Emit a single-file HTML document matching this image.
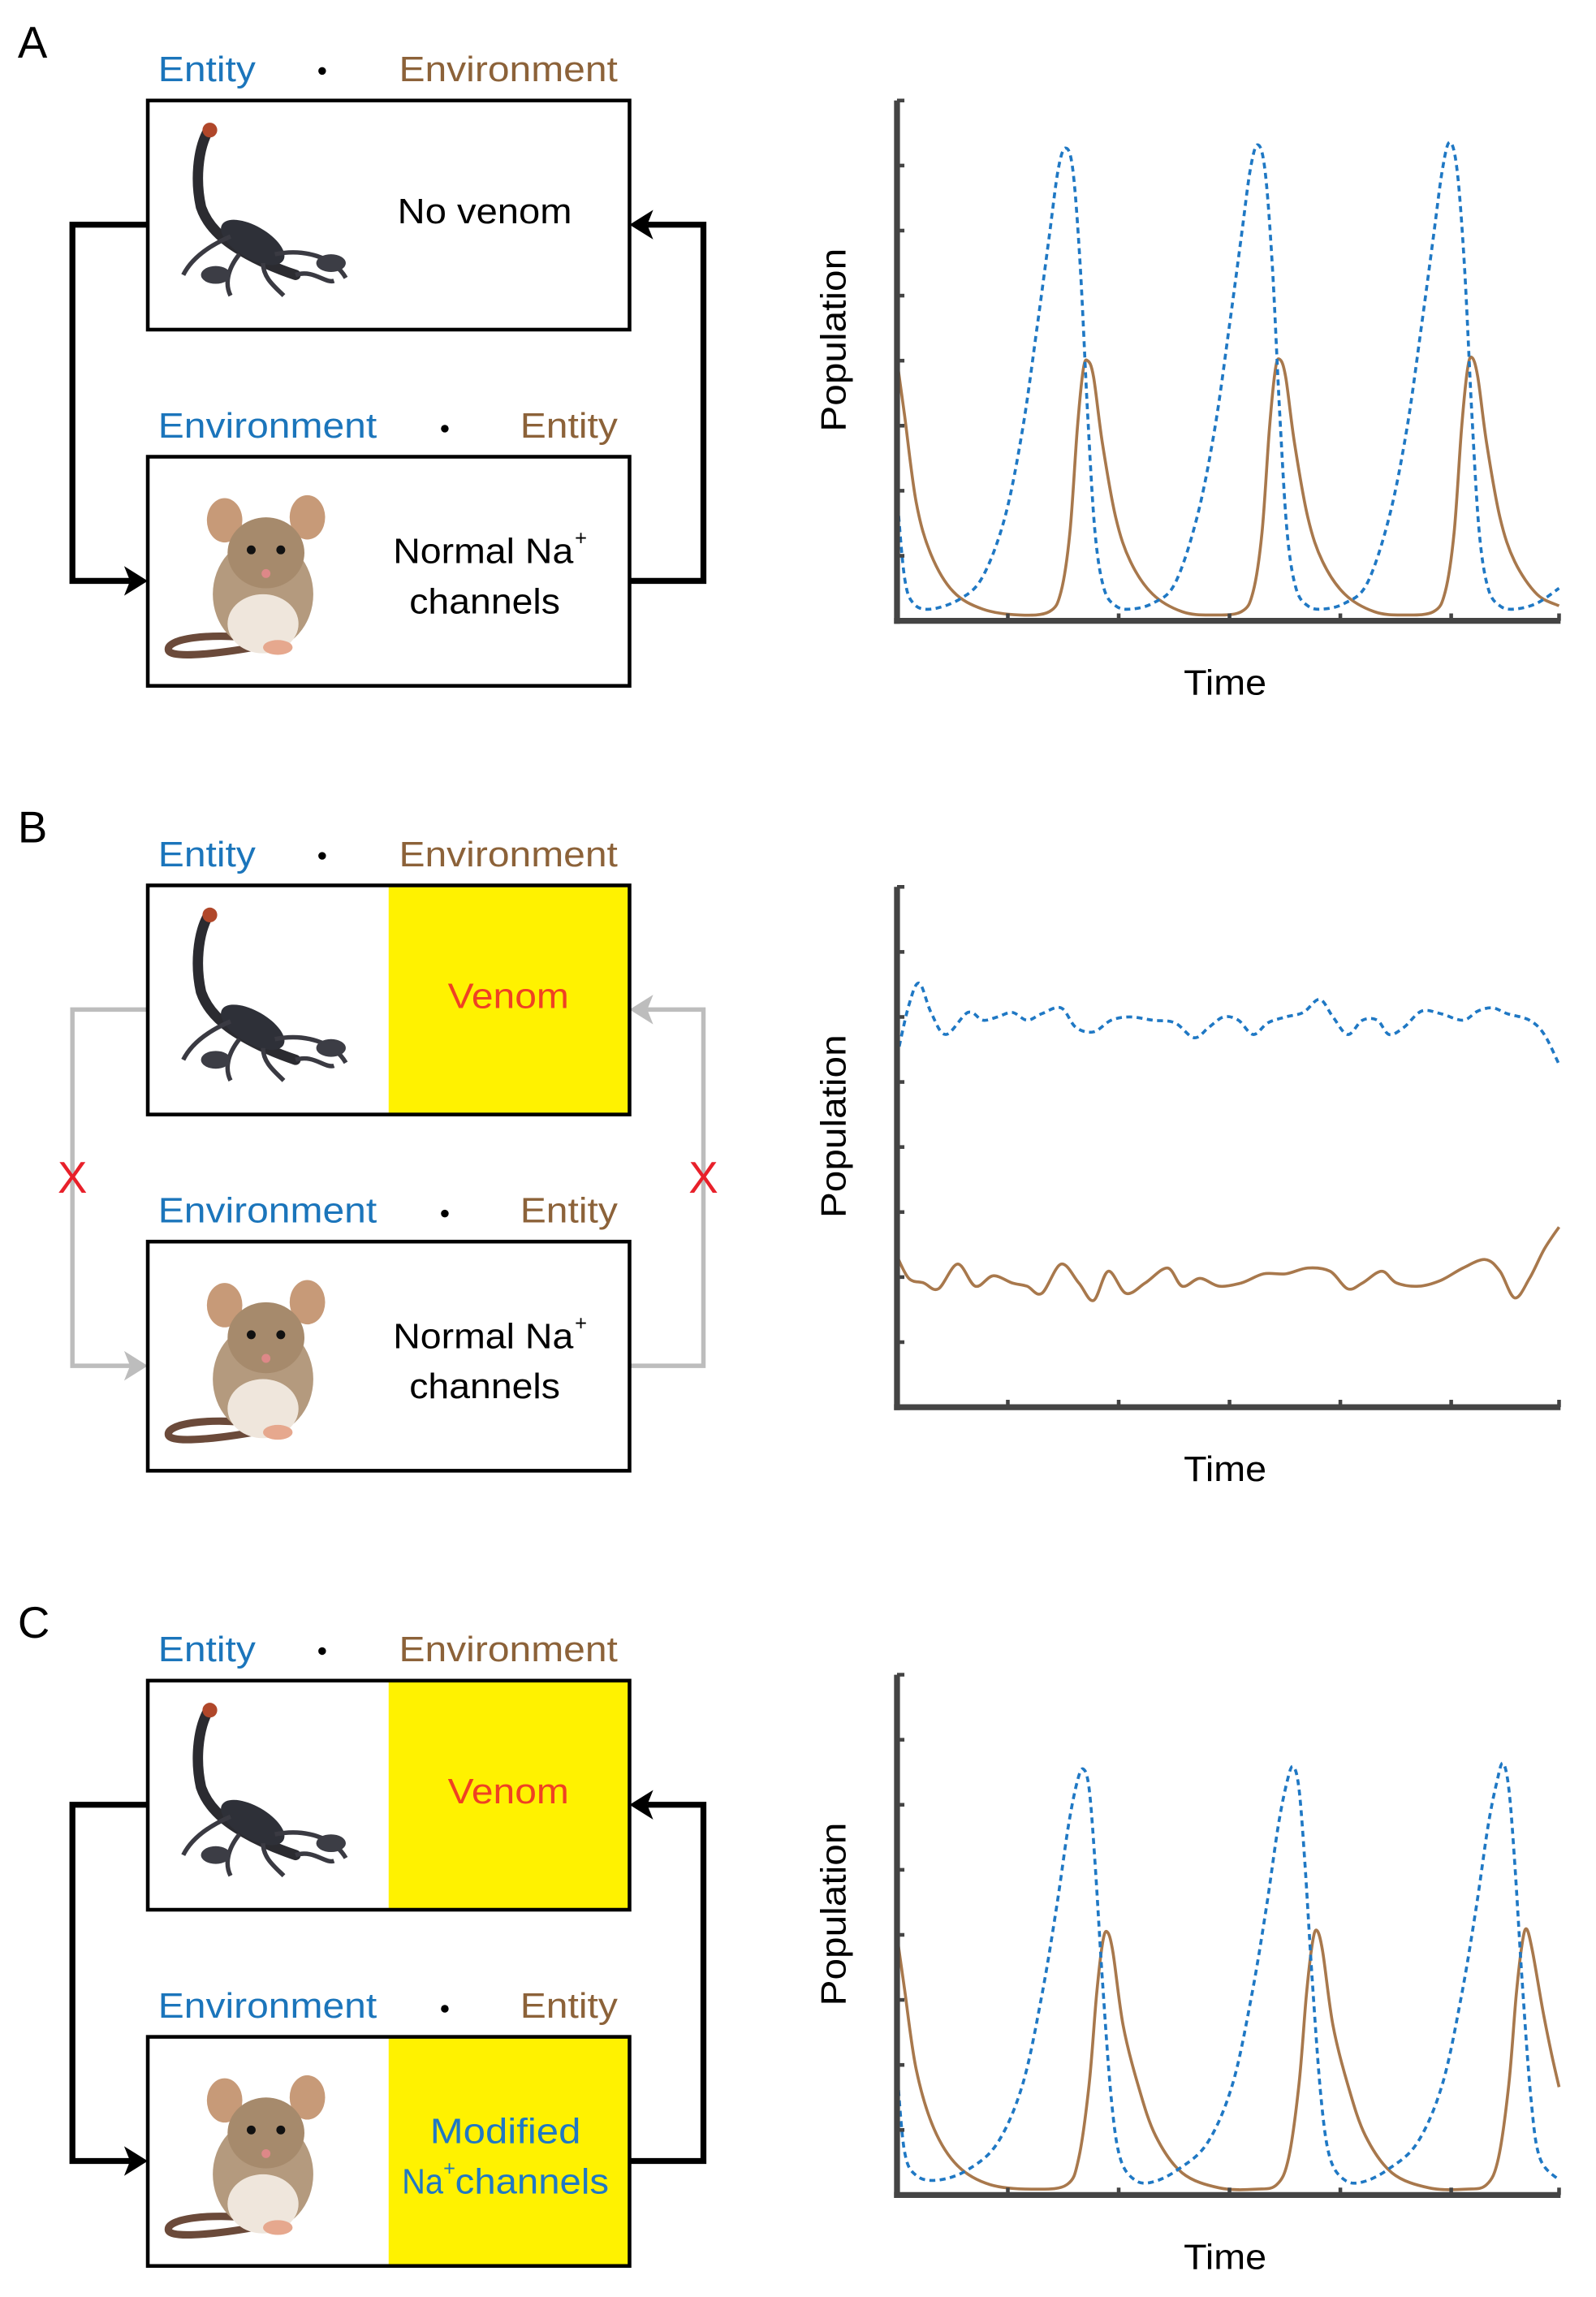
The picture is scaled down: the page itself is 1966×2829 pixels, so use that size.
<!DOCTYPE html>
<html><head><meta charset="utf-8">
<style>
html,body{margin:0;padding:0;background:#fff;}
svg{display:block;}
text{font-family:"Liberation Sans",sans-serif;}
</style></head>
<body>
<svg id="fig" width="1966" height="2829" viewBox="0 0 1080 1554" preserveAspectRatio="none" xmlns="http://www.w3.org/2000/svg">
<rect width="1080" height="1554" fill="#fff"/>
</svg>
<script>
// ---- chart data (time units 0..448, population units 0..8) ----
const aBlueT=[0,5,11,23,43,58,73,85,95,103,109,114,119,124,129,134,140,148,158,173,188,203,215,225,233,239,244,249,254,259,264,270,278,288,303,318,333,345,355,363,369,374,379,384,389,394,400,408,418,433,448];
const aBlueV=[1.93,0.68,0.27,0.18,0.34,0.68,1.59,2.95,4.55,5.91,6.93,7.27,6.93,5.45,3.18,1.36,0.5,0.23,0.18,0.27,0.57,1.59,2.95,4.55,5.91,6.93,7.32,6.93,5.45,3.18,1.36,0.5,0.23,0.18,0.27,0.57,1.59,2.95,4.55,5.91,6.93,7.36,6.93,5.45,3.18,1.36,0.5,0.23,0.18,0.27,0.5];
const aBrownT=[0,5,13,23,38,58,83,103,111,117,122,126,129,133,139,148,158,173,193,213,233,241,247,252,256,259,263,269,278,288,303,323,343,363,371,377,382,386,389,393,399,408,418,433,448];
const aBrownV=[4.0,3.18,1.82,1.02,0.45,0.18,0.09,0.14,0.45,1.36,2.95,3.86,4.0,3.75,2.73,1.59,0.91,0.41,0.14,0.09,0.14,0.45,1.36,2.95,3.86,4.02,3.75,2.73,1.59,0.91,0.41,0.14,0.09,0.14,0.45,1.36,2.95,3.86,4.05,3.75,2.73,1.59,0.91,0.41,0.23];
const bBlueT=[0,8,15,23,33,48,58,68,78,88,98,111,121,133,145,158,173,188,201,211,221,231,241,251,263,275,286,295,305,315,325,333,343,355,368,383,393,403,413,428,438,448];
const bBlueV=[5.39,6.18,6.52,6.07,5.73,6.07,5.95,6.0,6.07,5.95,6.05,6.14,5.84,5.77,5.95,6.0,5.95,5.91,5.68,5.84,6.0,5.95,5.73,5.91,6.0,6.07,6.27,6.0,5.73,5.95,5.95,5.73,5.84,6.09,6.05,5.95,6.09,6.14,6.05,5.95,5.73,5.27];
const bBrownT=[0,8,18,28,41,53,65,78,88,98,111,123,133,143,155,168,183,193,205,218,233,248,263,278,293,305,315,328,338,353,368,383,398,408,418,428,438,448];
const bBrownV=[2.32,1.98,1.91,1.82,2.2,1.86,2.02,1.91,1.86,1.75,2.2,1.91,1.64,2.09,1.75,1.91,2.14,1.86,1.98,1.86,1.91,2.05,2.05,2.14,2.09,1.82,1.91,2.09,1.91,1.86,1.95,2.14,2.27,2.09,1.68,1.98,2.43,2.77];
const cBlueT=[0,5,13,28,48,68,85,98,108,116,122,126,130,134,139,145,151,161,173,190,210,227,240,250,258,264,268,272,276,281,287,293,303,315,332,352,369,382,392,400,406,410,414,418,423,429,435,448];
const cBlueV=[1.93,0.68,0.3,0.23,0.39,0.8,1.7,3.07,4.43,5.68,6.36,6.55,6.25,5.11,3.3,1.48,0.57,0.23,0.2,0.39,0.8,1.7,3.07,4.43,5.68,6.36,6.59,6.25,5.11,3.3,1.48,0.57,0.23,0.2,0.39,0.8,1.7,3.07,4.43,5.68,6.36,6.64,6.25,5.11,3.3,1.48,0.57,0.23];
const cBrownT=[0,5,13,25,41,63,93,115,123,130,135,139,142,146,153,163,175,193,218,243,257,265,272,277,281,284,288,295,305,317,335,360,385,399,407,414,419,423,426,430,437,443,448];
const cBrownV=[3.98,3.18,1.93,1.02,0.45,0.16,0.09,0.16,0.57,1.7,3.07,3.86,4.05,3.75,2.61,1.7,0.91,0.34,0.11,0.09,0.16,0.57,1.7,3.07,3.86,4.07,3.75,2.61,1.7,0.91,0.34,0.11,0.09,0.16,0.57,1.7,3.07,3.86,4.09,3.75,2.84,2.16,1.66];
const yTicks=[0,1,2,3,4,5,6,7,8];
const xTicks=[0,75,150,225,300,375,448];

const NS='http://www.w3.org/2000/svg';
const svg=document.getElementById('fig');
function mk(tag,attrs,parent){const e=document.createElementNS(NS,tag);for(const k in attrs)e.setAttribute(k,attrs[k]);(parent||svg).appendChild(e);return e;}
function txt(s,x,y,size,fill,parent,anchor,len){const t=mk('text',{x:x,y:y,'font-size':size,fill:fill,'text-anchor':anchor||'start'},parent);if(len){t.setAttribute('textLength',len);t.setAttribute('lengthAdjust','spacingAndGlyphs');}t.textContent=s;return t;}

const BLUE='#1b75bb',BROWN='#8c6239',CBLUE='#1f78c4',CBROWN='#a8784c';

function scorpion(g,x,y){
  const s=mk('g',{transform:`translate(${x},${y})`},g);
  
  
  mk('path',{d:'M24,8 C18,20 16,40 20,58 C24,70 34,80 48,88 C60,95 72,100 84,104',stroke:'#2b2b30',"stroke-width":7,fill:'none','stroke-linecap':'round'},s);
  mk('circle',{cx:26,cy:6,r:5,fill:'#b0472a'},s);
  mk('ellipse',{cx:55,cy:82,rx:24,ry:11,fill:'#2e3038',transform:'rotate(30 55 82)'},s);
  mk('path',{d:'M70,90 C90,86 110,92 118,106 M40,78 C26,84 14,92 8,104 M46,90 C38,100 36,110 40,118 M62,96 C62,106 70,112 76,118 M84,104 C96,100 104,110 110,108',stroke:'#3a3a42','stroke-width':3,fill:'none'},s);
  mk('ellipse',{cx:108,cy:96,rx:10,ry:6,fill:'#3c3d45'},s);
  mk('ellipse',{cx:30,cy:104,rx:10,ry:6,fill:'#3c3d45'},s);
}
function mouse(g,x,y){
  const m=mk('g',{transform:`translate(${x},${y})`},g);
  
  
  mk('path',{d:'M60,100 C30,96 0,100 2,108 C4,114 40,110 70,104',stroke:'#6b4a3a','stroke-width':5,fill:'none'},m);
  mk('ellipse',{cx:66,cy:70,rx:34,ry:38,fill:'#b49a7e'},m);
  mk('ellipse',{cx:66,cy:90,rx:24,ry:20,fill:'#efe6dc'},m);
  mk('ellipse',{cx:40,cy:20,rx:12,ry:15,fill:'#c79a78'},m);
  mk('ellipse',{cx:96,cy:18,rx:12,ry:15,fill:'#c79a78'},m);
  mk('ellipse',{cx:68,cy:42,rx:26,ry:24,fill:'#a68a6c'},m);
  mk('circle',{cx:58,cy:40,r:3,fill:'#111'},m);mk('circle',{cx:78,cy:40,r:3,fill:'#111'},m);
  mk('circle',{cx:68,cy:56,r:3,fill:'#d88'},m);
  mk('ellipse',{cx:76,cy:106,rx:10,ry:5,fill:'#e6a88e'},m);
}

function diagram(id,dy,topYellow,botYellow,arrowsGray){
  const g=mk('g',{transform:`translate(0,${dy})`});
  
  
  const l=txt(id.toUpperCase(),12,39,30,'#000',g);
  
  
  const h1=mk('g',{},g);
  
  
  txt('Entity',107,55,24,BLUE,h1,'start',66);
  mk('circle',{cx:218,cy:48,r:2.6,fill:'#000'},h1);
  txt('Environment',270,55,24,BROWN,h1,'start',148);
  const h2=mk('g',{},g);
  
  
  txt('Environment',107,296,24,BLUE,h2,'start',148);
  mk('circle',{cx:301,cy:290,r:2.6,fill:'#000'},h2);
  txt('Entity',352,296,24,BROWN,h2,'start',66);
  // arrows
  const ac=arrowsGray?'#bdbdbd':'#000';
  const aw=arrowsGray?3:4;
  const ar=mk('g',{},g);
  
  
  mk('polyline',{points:'100,152 49,152 49,393 88,393',fill:'none',stroke:ac,'stroke-width':aw},ar);
  mk('polygon',{points:'100,393 84,383 88,393 84,403',fill:ac},ar);
  mk('polyline',{points:'426,393 476,393 476,152 438,152',fill:'none',stroke:ac,'stroke-width':aw},ar);
  mk('polygon',{points:'426,152 442,142 438,152 442,162',fill:ac},ar);
  if(arrowsGray){
    const x1=txt('X',49,808,30,'#e8202a',ar,'middle');
    
    x1.setAttribute('y',276);
    const x2=txt('X',476,276,30,'#e8202a',ar,'middle');
    
  }
  // boxes
  const b1=mk('g',{},g);
  
  
  if(topYellow) mk('rect',{x:263,y:68,width:163,height:155,fill:'#fff200'},b1);
  mk('rect',{x:100,y:68,width:326,height:155,fill:'none',stroke:'#000','stroke-width':2.5},b1);
  scorpion(b1,116,82);
  if(topYellow) txt('Venom',344,682-531,24,'#ef4123',b1,'middle',82);
  else txt('No venom',328,151,24,'#000',b1,'middle',118);
  const b2=mk('g',{},g);
  
  
  if(botYellow) mk('rect',{x:263,y:309,width:163,height:155,fill:'#fff200'},b2);
  mk('rect',{x:100,y:309,width:326,height:155,fill:'none',stroke:'#000','stroke-width':2.5},b2);
  mouse(b2,112,332);
  if(botYellow){
    txt('Modified',342,1450-1069,24,CBLUE,b2,'middle',102);
    const t=txt('Na',272,1484-1069,24,CBLUE,b2,'start',28);
    txt('+',300,1472-1069,14,CBLUE,b2,'start');
    txt('channels',308,1484-1069,24,CBLUE,b2,'start',104);
  } else {
    txt('Normal Na',266,381,24,'#000',b2,'start',122);
    txt('+',389,369,14,'#000',b2,'start');
    txt('channels',328,415,24,'#000',b2,'middle',102);
  }
}

function chart(id,base,top,blueT,blueV,brownT,brownV){
  const g=mk('g',{});
  
  
  const x0=607,x1=1055;
  const X=t=>x0+(t/448)*(x1-x0);
  const Y=v=>base-v*((base-top)/8);
  function path(T,V){
    const p=T.map((t,i)=>[X(t),Y(V[i])]);
    let d='M'+p[0][0]+','+p[0][1];
    for(let i=0;i<p.length-1;i++){
      const a=p[Math.max(0,i-1)],b=p[i],c=p[i+1],e=p[Math.min(p.length-1,i+2)];
      const c1x=b[0]+(c[0]-a[0])/6,c1y=b[1]+(c[1]-a[1])/6,c2x=c[0]-(e[0]-b[0])/6,c2y=c[1]-(e[1]-b[1])/6;
      d+=` C${c1x.toFixed(2)},${c1y.toFixed(2)} ${c2x.toFixed(2)},${c2y.toFixed(2)} ${c[0].toFixed(2)},${c[1].toFixed(2)}`;
    }
    return d;
  }
  const bl=mk('path',{d:path(brownT,brownV),fill:'none',stroke:CBROWN,'stroke-width':2},g);
  
  
  const bu=mk('path',{d:path(blueT,blueV),fill:'none',stroke:CBLUE,'stroke-width':2,'stroke-dasharray':'4,3'},g);
  
  
  const ax=mk('g',{},g);
  
  
  mk('line',{x1:X(0),y1:top,x2:X(0),y2:base+2,stroke:'#444','stroke-width':4},ax);
  mk('line',{x1:X(0)-2,y1:base,x2:x1+1,y2:base,stroke:'#444','stroke-width':4},ax);
  yTicks.forEach(v=>{mk('line',{x1:X(0),y1:Y(v),x2:X(0)+5,y2:Y(v),stroke:'#444','stroke-width':2.5},ax);});
  xTicks.forEach(t=>{mk('line',{x1:X(t),y1:base,x2:X(t),y2:base-5,stroke:'#444','stroke-width':2.5},ax);});
  const yl=txt('Population',0,0,24,'#000',g,'middle',124);
  yl.setAttribute('transform',`translate(572,${(top+base)/2-14}) rotate(-90)`);
  
  
  const xl=txt('Time',829,base+50,24,'#000',g,'middle',56);
  
  
}

diagram('a',0,false,false,false);
diagram('b',531,true,false,true);
diagram('c',1069,true,true,false);
chart('a',420,68,aBlueT,aBlueV,aBrownT,aBrownV);
chart('b',952,600,bBlueT,bBlueV,bBrownT,bBrownV);
chart('c',1485,1133,cBlueT,cBlueV,cBrownT,cBrownV);
</script>
</body></html>
